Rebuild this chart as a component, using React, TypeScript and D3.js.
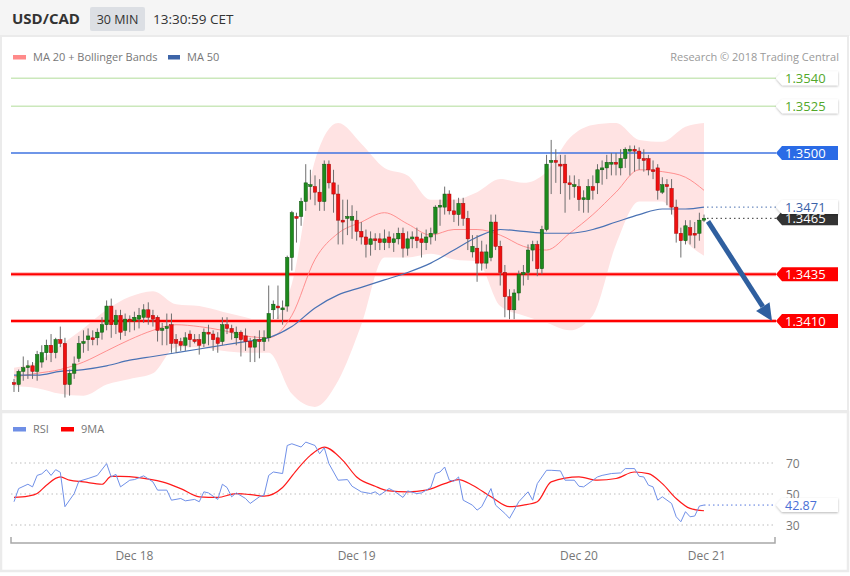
import * as d3 from 'd3'

// --- candles, 30 min, oldest first ---
const opens = [
  1.3377, 1.3376, 1.3383, 1.3385, 1.3386, 1.3383, 1.3388, 1.3393, 1.3397, 1.3393,
  1.3400, 1.3398, 1.3376, 1.3382, 1.3390, 1.3398, 1.3400, 1.3401, 1.3401, 1.3404,
  1.3408, 1.3418, 1.3408, 1.3413, 1.3405, 1.3411, 1.3410, 1.3411, 1.3412, 1.3416,
  1.3413, 1.3412, 1.3405, 1.3406, 1.3408, 1.3400, 1.3399, 1.3397, 1.3403, 1.3400,
  1.3400, 1.3398, 1.3404, 1.3403, 1.3401, 1.3399, 1.3408, 1.3406, 1.3401, 1.3404,
  1.3402, 1.3399, 1.3396, 1.3400, 1.3399, 1.3401, 1.3416, 1.3418, 1.3416, 1.3418,
  1.3444, 1.3466, 1.3466, 1.3474, 1.3482, 1.3482, 1.3479, 1.3474, 1.3494, 1.3484,
  1.3478, 1.3464, 1.3465, 1.3464, 1.3464, 1.3458, 1.3455, 1.3451, 1.3454, 1.3454,
  1.3452, 1.3455, 1.3452, 1.3454, 1.3457, 1.3449, 1.3454, 1.3455, 1.3454, 1.3452,
  1.3455, 1.3457, 1.3471, 1.3471, 1.3478, 1.3469, 1.3467, 1.3473, 1.3465, 1.3447,
  1.3449, 1.3447, 1.3441, 1.3444, 1.3463, 1.3450, 1.3436, 1.3423, 1.3416, 1.3425,
  1.3435, 1.3436, 1.3448, 1.3451, 1.3438, 1.3459, 1.3495, 1.3496, 1.3494, 1.3494,
  1.3484, 1.3482, 1.3482, 1.3475, 1.3475, 1.3482, 1.3484, 1.3491, 1.3492, 1.3494,
  1.3495, 1.3492, 1.3497, 1.3501, 1.3502, 1.3501, 1.3497, 1.3497, 1.3491, 1.3492,
  1.3479, 1.3483, 1.3481, 1.3471, 1.3457, 1.3453, 1.3460, 1.3457, 1.3457, 1.3464,
]
const highs = [
  1.3379, 1.3384, 1.3391, 1.3389, 1.3388, 1.3394, 1.3397, 1.3400, 1.3403, 1.3401,
  1.3407, 1.3401, 1.3384, 1.3391, 1.3402, 1.3405, 1.3406, 1.3405, 1.3406, 1.3412,
  1.3421, 1.3422, 1.3416, 1.3416, 1.3414, 1.3413, 1.3415, 1.3417, 1.3419, 1.3420,
  1.3416, 1.3413, 1.3409, 1.3414, 1.3414, 1.3403, 1.3401, 1.3404, 1.3405, 1.3403,
  1.3403, 1.3406, 1.3408, 1.3405, 1.3404, 1.3412, 1.3412, 1.3408, 1.3407, 1.3405,
  1.3406, 1.3401, 1.3402, 1.3405, 1.3405, 1.3429, 1.3421, 1.3429, 1.3421, 1.3445,
  1.3469, 1.3468, 1.3476, 1.3494, 1.3491, 1.3488, 1.3486, 1.3496, 1.3496, 1.3491,
  1.3483, 1.3475, 1.3475, 1.3472, 1.3469, 1.3463, 1.3459, 1.3458, 1.3457, 1.3457,
  1.3459, 1.3458, 1.3457, 1.3460, 1.3460, 1.3458, 1.3458, 1.3460, 1.3457, 1.3459,
  1.3460, 1.3472, 1.3475, 1.3482, 1.3480, 1.3475, 1.3476, 1.3476, 1.3469, 1.3456,
  1.3456, 1.3453, 1.3451, 1.3467, 1.3467, 1.3453, 1.3440, 1.3427, 1.3427, 1.3437,
  1.3440, 1.3451, 1.3453, 1.3453, 1.3461, 1.3499, 1.3507, 1.3502, 1.3499, 1.3499,
  1.3488, 1.3488, 1.3486, 1.3480, 1.3486, 1.3488, 1.3494, 1.3496, 1.3499, 1.3500,
  1.3500, 1.3502, 1.3503, 1.3504, 1.3504, 1.3503, 1.3502, 1.3499, 1.3496, 1.3494,
  1.3487, 1.3486, 1.3486, 1.3475, 1.3460, 1.3464, 1.3464, 1.3463, 1.3468, 1.3467,
]
const lows = [
  1.3372, 1.3372, 1.3378, 1.3379, 1.3379, 1.3378, 1.3385, 1.3389, 1.3388, 1.3390,
  1.3396, 1.3369, 1.3370, 1.3379, 1.3388, 1.3393, 1.3394, 1.3397, 1.3397, 1.3400,
  1.3405, 1.3401, 1.3403, 1.3400, 1.3402, 1.3404, 1.3405, 1.3406, 1.3409, 1.3408,
  1.3407, 1.3399, 1.3397, 1.3397, 1.3393, 1.3393, 1.3394, 1.3394, 1.3396, 1.3398,
  1.3392, 1.3396, 1.3397, 1.3394, 1.3393, 1.3397, 1.3403, 1.3400, 1.3397, 1.3391,
  1.3394, 1.3388, 1.3388, 1.3390, 1.3394, 1.3399, 1.3411, 1.3411, 1.3408, 1.3415,
  1.3437, 1.3452, 1.3461, 1.3469, 1.3475, 1.3472, 1.3469, 1.3469, 1.3481, 1.3468,
  1.3451, 1.3451, 1.3456, 1.3454, 1.3453, 1.3451, 1.3444, 1.3445, 1.3448, 1.3448,
  1.3448, 1.3449, 1.3447, 1.3451, 1.3444, 1.3445, 1.3449, 1.3449, 1.3444, 1.3448,
  1.3451, 1.3453, 1.3461, 1.3467, 1.3467, 1.3463, 1.3461, 1.3461, 1.3448, 1.3444,
  1.3431, 1.3437, 1.3438, 1.3442, 1.3448, 1.3429, 1.3412, 1.3411, 1.3411, 1.3421,
  1.3429, 1.3432, 1.3442, 1.3434, 1.3435, 1.3458, 1.3478, 1.3484, 1.3478, 1.3468,
  1.3475, 1.3476, 1.3469, 1.3468, 1.3468, 1.3475, 1.3478, 1.3483, 1.3486, 1.3488,
  1.3488, 1.3488, 1.3492, 1.3488, 1.3490, 1.3491, 1.3490, 1.3488, 1.3486, 1.3475,
  1.3478, 1.3472, 1.3467, 1.3452, 1.3444, 1.3451, 1.3451, 1.3449, 1.3453, 1.3463,
]
const closes = [
  1.3376, 1.3383, 1.3385, 1.3386, 1.3383, 1.3392, 1.3393, 1.3397, 1.3393, 1.3400,
  1.3398, 1.3376, 1.3382, 1.3387, 1.3398, 1.3399, 1.3402, 1.3400, 1.3404, 1.3408,
  1.3418, 1.3408, 1.3413, 1.3404, 1.3411, 1.3410, 1.3412, 1.3413, 1.3416, 1.3412,
  1.3411, 1.3405, 1.3406, 1.3407, 1.3398, 1.3398, 1.3397, 1.3401, 1.3400, 1.3399,
  1.3397, 1.3404, 1.3403, 1.3400, 1.3398, 1.3408, 1.3406, 1.3404, 1.3404, 1.3400,
  1.3399, 1.3396, 1.3400, 1.3399, 1.3401, 1.3414, 1.3419, 1.3417, 1.3417, 1.3444,
  1.3468, 1.3465, 1.3474, 1.3484, 1.3483, 1.3479, 1.3474, 1.3494, 1.3484, 1.3478,
  1.3464, 1.3463, 1.3466, 1.3466, 1.3458, 1.3455, 1.3451, 1.3454, 1.3453, 1.3452,
  1.3454, 1.3452, 1.3454, 1.3457, 1.3449, 1.3454, 1.3455, 1.3453, 1.3452, 1.3455,
  1.3457, 1.3471, 1.3472, 1.3478, 1.3469, 1.3467, 1.3473, 1.3465, 1.3454, 1.3450,
  1.3441, 1.3441, 1.3447, 1.3463, 1.3450, 1.3436, 1.3423, 1.3416, 1.3425, 1.3435,
  1.3436, 1.3448, 1.3451, 1.3438, 1.3459, 1.3494, 1.3496, 1.3495, 1.3493, 1.3484,
  1.3483, 1.3483, 1.3475, 1.3476, 1.3482, 1.3480, 1.3491, 1.3492, 1.3495, 1.3495,
  1.3494, 1.3497, 1.3502, 1.3502, 1.3501, 1.3497, 1.3496, 1.3491, 1.3490, 1.3480,
  1.3483, 1.3482, 1.3471, 1.3457, 1.3453, 1.3461, 1.3456, 1.3456, 1.3464, 1.3465,
]

// indicators every 5 candles
const bandIdx = [0, 5, 10, 15, 20, 25, 30, 35, 40, 45, 50, 55, 60, 65, 70, 75, 80, 85, 90, 95, 100, 105, 110, 115, 120, 125, 130, 135, 140, 145, 149]
const upperBand = [1.3385, 1.3388, 1.3397, 1.3406, 1.3416, 1.3423, 1.3426, 1.3419, 1.3418, 1.3415, 1.3412, 1.3409, 1.3430, 1.3496, 1.3516, 1.3505, 1.3492, 1.3488, 1.3475, 1.3475, 1.3479, 1.3486, 1.3484, 1.3490, 1.3508, 1.3515, 1.3516, 1.3507, 1.3506, 1.3514, 1.3516]
const lowerBand = [1.3375, 1.3374, 1.3371, 1.3370, 1.3376, 1.3379, 1.3382, 1.3396, 1.3396, 1.3394, 1.3393, 1.3393, 1.3371, 1.3364, 1.3378, 1.3408, 1.3444, 1.3444, 1.3446, 1.3443, 1.3442, 1.3418, 1.3413, 1.3409, 1.3405, 1.3413, 1.3451, 1.3474, 1.3474, 1.3453, 1.3445]
const ma20 = [1.3380, 1.3382, 1.3384, 1.3388, 1.3394, 1.3400, 1.3405, 1.3408, 1.3407, 1.3405, 1.3402, 1.3401, 1.3413, 1.3443, 1.3457, 1.3463, 1.3468, 1.3462, 1.3456, 1.3459, 1.3459, 1.3456, 1.3450, 1.3448, 1.3457, 1.3467, 1.3479, 1.3491, 1.3490, 1.3487, 1.3480]
const ma50 = [1.3381, 1.3381, 1.3383, 1.3384, 1.3386, 1.3389, 1.3391, 1.3393, 1.3395, 1.3397, 1.3399, 1.3401, 1.3407, 1.3417, 1.3424, 1.3428, 1.3432, 1.3436, 1.3441, 1.3448, 1.3455, 1.3459, 1.3458, 1.3457, 1.3457, 1.3459, 1.3463, 1.3467, 1.3470, 1.3470, 1.3471]

// RSI and its 9 period MA
const rsiIdx = [0, 1, 3, 4, 5, 6, 7, 8, 9, 10, 11, 13, 14, 16, 18, 20, 21, 22, 23, 25, 26, 28, 30, 31, 33, 34, 36, 37, 39, 40, 41, 42, 44, 45, 46, 47, 48, 50, 51, 53, 54, 55, 56, 58, 59, 60, 62, 63, 65, 66, 67, 68, 70, 72, 73, 75, 77, 78, 79, 81, 82, 84, 85, 87, 88, 90, 91, 92, 93, 94, 95, 96, 97, 99, 100, 101, 103, 104, 106, 107, 108, 109, 111, 112, 113, 115, 116, 118, 119, 121, 122, 123, 125, 126, 127, 129, 131, 132, 134, 135, 136, 137, 138, 139, 140, 142, 143, 144, 145, 146, 147, 148, 149]
const rsiVal = [45, 53.5, 56.3, 54.6, 62, 63, 65.7, 62, 65.7, 64, 41.8, 50.3, 58.2, 60, 62, 69.6, 61, 62.7, 54.6, 58.9, 59.3, 61.7, 57.8, 52.5, 52.5, 46, 47.1, 45.6, 46.5, 45, 51.4, 50.7, 46.5, 56.3, 54.2, 48.2, 50.7, 47.1, 43.9, 48.2, 49.3, 62, 64.2, 63.2, 81.3, 82.4, 80.3, 83.5, 81.3, 76, 79.8, 69.6, 58.9, 59.3, 55, 51.4, 50.3, 51.4, 49.3, 53.5, 52, 47.8, 52, 50.3, 50.7, 54.2, 63.2, 64.2, 67.4, 58.9, 58.2, 61, 46, 42.8, 39.6, 41.8, 53.5, 42.8, 37.5, 34.3, 39.6, 45, 51.4, 46, 56.7, 65.3, 65.3, 64.9, 58.9, 58.9, 55, 54.6, 58.9, 61, 62, 63.2, 63.6, 66.4, 66.4, 61.4, 61, 55.7, 54.6, 46, 48.2, 43.9, 35.3, 32.1, 38.6, 35.3, 35.8, 42.2, 42.87]
const ma9Idx = [0, 3, 5, 7, 10, 12, 15, 19, 21, 23, 27, 32, 36, 40, 44, 48, 52, 54, 58, 61, 64, 67, 71, 74, 78, 81, 85, 89, 93, 96, 99, 103, 107, 110, 113, 116, 122, 126, 130, 134, 137, 140, 143, 146, 149]
const ma9Val = [47.8, 48.6, 50.3, 55.7, 61, 58.9, 57.8, 56.3, 61.4, 61.4, 60.6, 57.8, 53.5, 48.2, 47.8, 50.3, 49.3, 48.6, 54.2, 65.3, 74.9, 80.3, 71.7, 61, 55, 52, 51.4, 52.5, 56.7, 59.3, 55.7, 48.2, 41.8, 42.8, 45, 57.8, 61, 58.9, 60, 64.2, 63.2, 56.7, 47.1, 40.7, 39.2]
const rsiLevels = [70, 50, 30]

// key levels
const resistances = [1.3540, 1.3525]
const pivot = 1.3500
const supports = [1.3435, 1.3410]

// date axis
const dayLabels = ['Dec 18', 'Dec 19', 'Dec 20', 'Dec 21']
const dayTickIdx = [26, 74, 122, 149.6]

const FONT = "'Open Sans', sans-serif"
const LINE_L = 11
const TAG_X = 776

const xScale = d3.scaleLinear().domain([0, closes.length - 1]).range([14, 704])
const yScale = d3.scaleLinear().domain([1.3410, 1.3540]).range([321, 78.3])
const rsiScale = d3.scaleLinear().domain([30, 70]).range([525, 463])
const fmt4 = d3.format('.4f')
const fmt2 = d3.format('.2f')

const PriceTag = ({ y, text, fill, color, shadow = false, size = 13 }: { y: number, text: string, fill: string, color: string, shadow?: boolean, size?: number }) => {
  const h = 7
  const d = `M${TAG_X},${y} L${TAG_X + 6},${y - h} L838,${y - h} L838,${y + h} L${TAG_X + 6},${y + h} Z`
  return (
    <g>
      <path d={d} fill={fill} filter={shadow ? 'url(#tagShadow)' : undefined} />
      <text x={785} y={y + 4.6} fontSize={size} fill={color} fontFamily={FONT}>{text}</text>
    </g>
  )
}

export default function App() {
  const last = closes.length - 1
  const bandData = bandIdx.map((idx, i) => ({ idx, up: upperBand[i], lo: lowerBand[i], m20: ma20[i], m50: ma50[i] }))

  const bandArea = d3.area<typeof bandData[number]>()
    .x(d => xScale(d.idx)).y0(d => yScale(d.lo)).y1(d => yScale(d.up))
    .curve(d3.curveMonotoneX)(bandData) as string
  const ma20Path = d3.line<typeof bandData[number]>()
    .x(d => xScale(d.idx)).y(d => yScale(d.m20)).curve(d3.curveMonotoneX)(bandData) as string
  const ma50Path = d3.line<typeof bandData[number]>()
    .x(d => xScale(d.idx)).y(d => yScale(d.m50)).curve(d3.curveMonotoneX)(bandData) as string

  const rsiPath = d3.line<number>().x((_, i) => xScale(rsiIdx[i])).y(v => rsiScale(v))(rsiVal) as string
  const ma9Path = d3.line<number>().x((_, i) => xScale(ma9Idx[i])).y(v => rsiScale(v))
    .curve(d3.curveMonotoneX)(ma9Val) as string

  // forecast arrow: from last candle down to the second support
  const ax0 = xScale(last) + 4, ay0 = yScale(closes[last]) + 3
  const tipX = 772, tipY = yScale(supports[1])
  const len = Math.hypot(tipX - ax0, tipY - ay0)
  const ux = (tipX - ax0) / len, uy = (tipY - ay0) / len
  const headL = 17, headW = 8
  const bx = tipX - ux * headL, by = tipY - uy * headL
  const head = `M${tipX},${tipY} L${bx - uy * headW},${by + ux * headW} L${bx + uy * headW},${by - ux * headW} Z`

  const lastRsi = rsiVal[rsiVal.length - 1]

  return (
    <div style={{ position: 'absolute', left: 0, top: 0 }}>
      <svg width={850} height={576} style={{ display: 'block', background: '#fff' }}>
        <defs>
          <filter id="tagShadow" x="-20%" y="-50%" width="140%" height="200%">
            <feDropShadow dx="0" dy="1" stdDeviation="1.2" floodColor="#000" floodOpacity="0.28" />
          </filter>
        </defs>

        {/* header */}
        <rect x={0} y={0} width={850} height={36} fill="#f5f5f5" />
        <text x={12} y={24} fontSize={15} fontWeight="bold" fill="#333" fontFamily={FONT}>USD/CAD</text>
        <rect x={90} y={7} width={55} height={24} rx={2} fill="#dcdfe4" />
        <text x={117.5} y={23.5} fontSize={12.5} fill="#333" textAnchor="middle" fontFamily={FONT}>30 MIN</text>
        <text x={153} y={23.5} fontSize={13.5} fill="#333" fontFamily={FONT}>13:30:59 CET</text>

        {/* panel frames */}
        <rect x={1} y={36} width={847} height={375} fill="none" stroke="#ebebeb" strokeWidth={2} />
        <rect x={1} y={412} width={847} height={159} fill="none" stroke="#ebebeb" strokeWidth={2.5} />

        {/* legend */}
        <rect x={13} y={55} width={13} height={4.5} fill="#ff8a8a" />
        <text x={33} y={61} fontSize={11} fill="#777" fontFamily={FONT}>MA 20 + Bollinger Bands</text>
        <rect x={168} y={55} width={12} height={4.5} fill="#3d65a8" />
        <text x={187} y={61} fontSize={11} fill="#777" fontFamily={FONT}>MA 50</text>
        <text x={839} y={61} fontSize={11} fill="#9a9a9a" textAnchor="end" fontFamily={FONT}>Research © 2018 Trading Central</text>

        {/* bollinger band + moving averages */}
        <path d={bandArea} fill="#ffe3e3" />

        {/* key levels */}
        {resistances.map(r => (
          <line key={r} x1={LINE_L} x2={TAG_X} y1={yScale(r)} y2={yScale(r)} stroke="#cbe8bb" strokeWidth={1.6} />
        ))}
        <line x1={LINE_L} x2={TAG_X} y1={yScale(pivot)} y2={yScale(pivot)} stroke="#3f73e0" strokeWidth={1.3} />
        {supports.map(s => (
          <g key={s}>
            <line x1={LINE_L} x2={TAG_X} y1={yScale(s)} y2={yScale(s)} stroke="#ffb0b0" strokeWidth={4} />
            <line x1={LINE_L} x2={TAG_X} y1={yScale(s)} y2={yScale(s)} stroke="#ff0000" strokeWidth={2} />
          </g>
        ))}

        <path d={ma20Path} fill="none" stroke="#ff8080" strokeWidth={1} opacity={0.85} />
        <path d={ma50Path} fill="none" stroke="#4a72b4" strokeWidth={1.2} />

        {/* candles */}
        {closes.map((c, i) => {
          const o = opens[i]
          const x = xScale(i)
          const up = c >= o
          const top = yScale(Math.max(o, c))
          const h = Math.max(1, Math.abs(yScale(o) - yScale(c)))
          return (
            <g key={i}>
              <line x1={x} x2={x} y1={yScale(highs[i])} y2={yScale(lows[i])} stroke="#6e6e6e" strokeWidth={1} />
              <rect x={x - 1.7} y={top} width={3.4} height={h}
                fill={up ? '#1d8a1d' : '#ef1010'} stroke={up ? '#0d520d' : '#a00808'} strokeWidth={0.5} />
            </g>
          )
        })}

        {/* dotted guides to the tags */}
        <line x1={xScale(last) + 3} x2={TAG_X} y1={yScale(ma50[ma50.length - 1])} y2={yScale(ma50[ma50.length - 1])}
          stroke="#4a6fb0" strokeWidth={1} strokeDasharray="1.5,3" />
        <line x1={xScale(last) + 3} x2={TAG_X} y1={yScale(closes[last])} y2={yScale(closes[last])}
          stroke="#333" strokeWidth={1} strokeDasharray="1.5,3" />

        {/* forecast arrow */}
        <line x1={ax0} y1={ay0} x2={bx} y2={by} stroke="#2f5f9f" strokeWidth={5} />
        <path d={head} fill="#2f5f9f" />

        {/* price tags */}
        {resistances.map(r => (
          <PriceTag key={r} y={yScale(r)} text={fmt4(r)} fill="#fff" color="#52a82a" shadow />
        ))}
        <PriceTag y={yScale(pivot)} text={fmt4(pivot)} fill="#2a6be6" color="#fff" />
        <PriceTag y={yScale(closes[last])} text={fmt4(closes[last])} fill="#333" color="#fff" />
        <PriceTag y={yScale(ma50[ma50.length - 1])} text={fmt4(ma50[ma50.length - 1])} fill="#fff" color="#3a62a8" shadow />
        {supports.map(s => (
          <PriceTag key={s} y={yScale(s)} text={fmt4(s)} fill="#ff0000" color="#fff" />
        ))}

        {/* RSI panel */}
        <rect x={13} y={427} width={13} height={4.5} fill="#6f8fe6" />
        <text x={33} y={433} fontSize={11} fill="#777" fontFamily={FONT}>RSI</text>
        <rect x={61} y={427} width={13} height={4.5} fill="#ff0000" />
        <text x={81} y={433} fontSize={11} fill="#777" fontFamily={FONT}>9MA</text>

        {rsiLevels.map(l => (
          <g key={l}>
            <line x1={LINE_L} x2={TAG_X} y1={rsiScale(l)} y2={rsiScale(l)} stroke="#bdbdbd" strokeDasharray="1.5,3" />
            <text x={786} y={rsiScale(l) + 4.5} fontSize={12} fill="#777" fontFamily={FONT}>{l}</text>
          </g>
        ))}
        <path d={ma9Path} fill="none" stroke="#ff1a1a" strokeWidth={1.2} />
        <path d={rsiPath} fill="none" stroke="#7090e8" strokeWidth={1} />
        <line x1={xScale(last)} x2={TAG_X} y1={rsiScale(lastRsi)} y2={rsiScale(lastRsi)}
          stroke="#5577dd" strokeWidth={1} strokeDasharray="1.5,3" />
        <PriceTag y={rsiScale(lastRsi)} text={fmt2(lastRsi)} fill="#fff" color="#4a6fd6" shadow size={12.5} />

        {/* date axis */}
        <path d={`M${LINE_L},537 V543 H775 V537`} fill="none" stroke="#a8a8a8" strokeWidth={1.5} />
        {dayLabels.map((lab, i) => (
          <text key={lab} x={xScale(dayTickIdx[i])} y={560} fontSize={12} fill="#777" textAnchor="middle" fontFamily={FONT}>{lab}</text>
        ))}
      </svg>
    </div>
  )
}
